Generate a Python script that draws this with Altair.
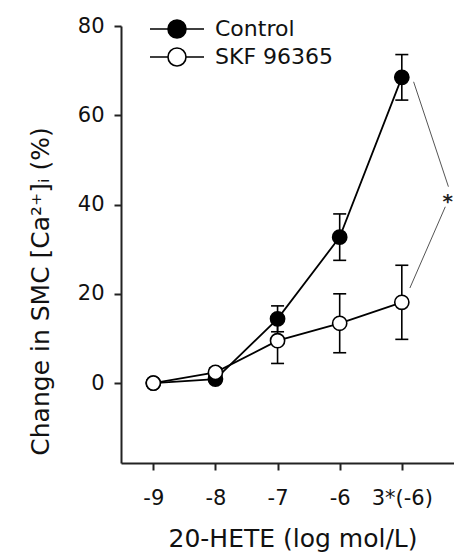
import altair as alt
import pandas as pd

# ---- data ----
x_labels = ["-9", "-8", "-7", "-6", "3*(-6)"]
groups = ["Control", "SKF 96365"]
control_mean = [0.0, 0.9, 14.4, 32.7, 68.5]
control_sem = [0.0, 0.8, 2.9, 5.2, 5.1]
skf_mean = [0.0, 2.4, 9.5, 13.4, 18.1]
skf_sem = [0.0, 1.0, 5.1, 6.6, 8.3]

# significance bracket (data coordinates) and asterisk
sig_x = [4.19, 4.75, 4.70, 4.13]
sig_y = [67.5, 44.0, 39.5, 21.3]
sig_seg = ["upper", "upper", "lower", "lower"]
star_x = [4.74]
star_y = [41.8]
star_text = ["*"]

rows = []
for g, means, sems in ((groups[0], control_mean, control_sem),
                       (groups[1], skf_mean, skf_sem)):
    for i, (m, s) in enumerate(zip(means, sems)):
        rows.append(dict(group=g, idx=i, mean=m, lo=m - s, hi=m + s))
df = pd.DataFrame(rows)
sig_df = pd.DataFrame(dict(x=sig_x, y=sig_y, seg=sig_seg))
star_df = pd.DataFrame(dict(x=star_x, y=star_y, t=star_text))

FONT = "DejaVu Sans"
label_expr = "[" + ",".join('"%s"' % s for s in x_labels) + "][datum.value]"

xscale = alt.Scale(domain=[-0.52, 4.84], nice=False, zero=False)
yscale = alt.Scale(domain=[-17.9, 80], nice=False, zero=False)

x_enc = alt.X("idx:Q", scale=xscale, axis=alt.Axis(
    values=[0, 1, 2, 3, 4], labelExpr=label_expr, title="20-HETE (log mol/L)",
    titleX=171.5, titleY=83, titleBaseline="alphabetic", titleAlign="center",
    labelPadding=17, grid=False))
y_enc = alt.Y("mean:Q", scale=yscale, axis=alt.Axis(
    values=[0, 20, 40, 60, 80], title="Change in SMC [Ca²⁺]ᵢ (%)",
    titleX=-73, titleY=265, titleBaseline="alphabetic", titleAlign="center",
    titleAngle=270, labelPadding=10, grid=False))

base = alt.Chart(df)

lines = base.mark_line(color="black", strokeWidth=1.8).encode(
    x=x_enc, y=y_enc, detail="group:N")

err_rules = base.mark_rule(color="black", strokeWidth=1.6).encode(
    x="idx:Q", y="lo:Q", y2="hi:Q")
err_lo = base.mark_tick(color="black", orient="horizontal", size=13,
                        thickness=1.6, opacity=1).encode(x="idx:Q", y="lo:Q")
err_hi = base.mark_tick(color="black", orient="horizontal", size=13,
                        thickness=1.6, opacity=1).encode(x="idx:Q", y="hi:Q")

legend_path = "M-3,0L-1,0M1,0L3,0M1,0A1,1 0 1,1 -1,0A1,1 0 1,1 1,0Z"

points = base.mark_point(filled=True, size=201, stroke="black",
                         strokeWidth=1.6, opacity=1, shape="circle").encode(
    x="idx:Q", y="mean:Q",
    fill=alt.Fill("group:N",
                  scale=alt.Scale(domain=groups, range=["black", "white"]),
                  legend=alt.Legend(
                      orient="none", legendX=45, legendY=-8, title=None,
                      symbolType=legend_path, symbolSize=324,
                      symbolStrokeColor="black", symbolStrokeWidth=1.6,
                      symbolOpacity=1,
                      labelFont=FONT, labelFontSize=22, labelColor="#111",
                      labelOffset=27, rowPadding=2, padding=0)),
    order=alt.Order("group:N"))

sig = alt.Chart(sig_df).mark_line(color="#555", strokeWidth=1).encode(
    x="x:Q", y="y:Q", detail="seg:N")
star = alt.Chart(star_df).mark_text(font=FONT, fontSize=20, fontWeight="bold",
                                    color="#222", baseline="middle",
                                    align="center", dy=5).encode(
    x="x:Q", y="y:Q", text="t:N")

chart = alt.layer(lines, err_rules, err_lo, err_hi, points, sig, star).properties(
    width=333, height=437,
    autosize=alt.AutoSizeParams(type="none"),
    padding={"left": 113, "top": 18, "right": 0, "bottom": 90},
).configure_view(stroke=None).configure_axis(
    domainColor="#222", domainWidth=2, tickColor="#222", tickWidth=2,
    tickSize=7, labelFont=FONT, labelFontSize=21, labelColor="#111",
    titleFont=FONT, titleFontSize=25, titleFontWeight="normal",
    titleColor="#111",
).configure_axisX(labelAngle=0)

chart.save("out.html", embed_options={"renderer": "svg", "actions": False})
